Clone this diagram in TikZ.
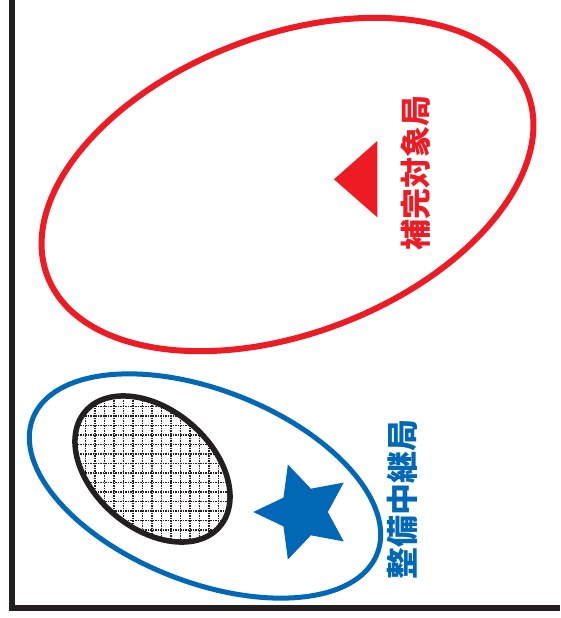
\documentclass[tikz,border=0pt]{standalone}
\usepackage{fontspec}
\newfontfamily\cjk{Noto Sans CJK JP}
\usetikzlibrary{shapes.geometric}
\definecolor{rred}{HTML}{ED1C24}
\definecolor{bblue}{HTML}{0068B7}
\definecolor{frameblk}{HTML}{231F20}
\begin{document}
\begin{tikzpicture}[x=1pt,y=-1pt,
  oval/.style={ellipse, draw, inner sep=0pt, line width=#1},
  hatchline/.style={frameblk, line width=1.3pt, dash pattern=on 1.5pt off 1pt},
  vlabel/.style={rotate=90, inner sep=0pt},
  framestyle/.style={frameblk, line width=6pt, line join=miter}]
\useasboundingbox (0,0) rectangle (560,618);

% frame
\coordinate (fa) at (11.5,0);
\coordinate (fc) at (11.5,608);
\coordinate (fb) at (560,608);
\draw[framestyle] (fa) -- (fc) -- (fb);

% red ellipse, triangle, label
\node[oval=6pt, draw=rred, minimum width=514pt, minimum height=298pt, rotate=20.9] (redov) at (287.5,184.5) {};
\coordinate (t1) at (334,179.3);
\coordinate (t2) at (377.3,141);
\coordinate (t3) at (377.3,217.3);
\fill[rred] (t1) -- (t2) -- (t3) -- cycle;
\node[vlabel, text=rred, font=\cjk\bfseries\fontsize{31}{31}\selectfont] (redtxt) at (416,172.5) {補完対象局};

% blue ellipse
\node[oval=5pt, draw=bblue, minimum width=370pt, minimum height=192pt, rotate=-21.5] (blueov) at (205,486) {};

% hatched black ellipse
\coordinate (bc) at (152.5,469);
\begin{scope}
  \clip[rotate around={-40.5:(bc)}] (bc) ellipse [x radius=88.5pt, y radius=59.3pt];
  \foreach \k in {0,...,21} {
    \draw[hatchline] (57+9.5*\k,375) -- (57+9.5*\k,565);
    \draw[hatchline] (55,378+9.5*\k) -- (250,378+9.5*\k);
  }
\end{scope}
\node[oval=5.5pt, draw=frameblk, minimum width=177pt, minimum height=118.6pt, rotate=-40.5] (blk) at (bc) {};

% star
\node[star, star points=5, star point ratio=2.04, minimum size=100pt, inner sep=0pt, fill=bblue, shape border rotate=90] (st) at (303.3,512) {};

\node[vlabel, text=bblue, font=\cjk\bfseries\fontsize{32}{32}\selectfont] (bluetxt) at (402.5,499) {整備中継局};
\end{tikzpicture}
\end{document}
